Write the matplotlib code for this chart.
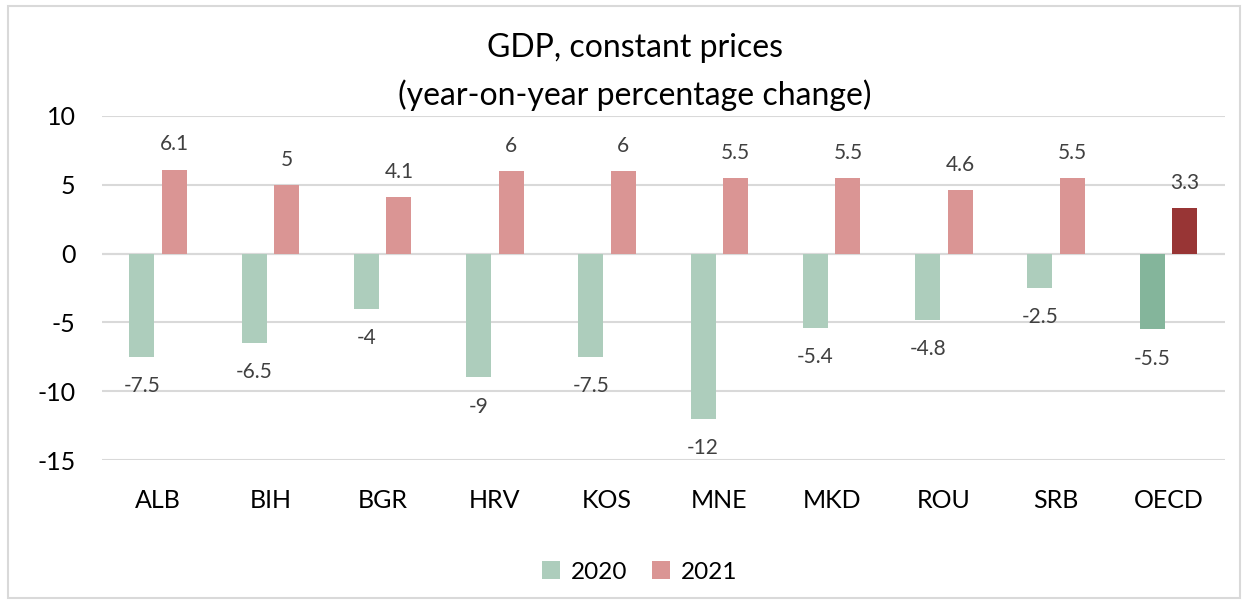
import numpy as np
import matplotlib.pyplot as plt
from matplotlib.patches import Rectangle

plt.rcParams['font.family'] = ['Lato', 'DejaVu Sans']
plt.rcParams['axes.unicode_minus'] = False

# Data
countries = ['ALB', 'BIH', 'BGR', 'HRV', 'KOS', 'MNE', 'MKD', 'ROU', 'SRB', 'OECD']
gdp_2020 = [-7.5, -6.5, -4, -9, -7.5, -12, -5.4, -4.8, -2.5, -5.5]
gdp_2021 = [6.1, 5, 4.1, 6, 6, 5.5, 5.5, 4.6, 5.5, 3.3]

#Colours
c2020 = '#ADCDBC'
c2021 = '#DA9594'
c2020_oecd = '#84B59B'
c2021_oecd = '#983535'

fig = plt.figure(figsize=(12.47, 6.01), dpi=100)
ax = fig.add_axes([0.0818, 0.2346, 0.9002, 0.5724])

x = np.arange(len(countries))
w = 0.223
off = 0.145
cols20 = [c2020]*(len(countries)-1) + [c2020_oecd]
cols21 = [c2021]*(len(countries)-1) + [c2021_oecd]
b1 = ax.bar(x - off, gdp_2020, w, color=cols20, label='2020', zorder=3)
b2 = ax.bar(x + off, gdp_2021, w, color=cols21, label='2021', zorder=3)

def fmt(v):
    return f"{v:g}"

for xi, v in zip(x - off, gdp_2020):
    ax.annotate(fmt(v), (xi, v), xytext=(0, -14), textcoords='offset points',
                ha='center', va='top', fontsize=15, color='#404040')
for xi, v in zip(x + off, gdp_2021):
    ax.annotate(fmt(v), (xi, v), xytext=(0, 11), textcoords='offset points',
                ha='center', va='bottom', fontsize=15, color='#404040')

ax.set_xlim(-0.5, len(countries) - 0.5)
ax.set_ylim(-15, 10)
ax.set_yticks([-15, -10, -5, 0, 5, 10])
ax.set_xticks(x)
ax.set_xticklabels(countries)
ax.tick_params(axis='both', length=0, labelsize=18, colors='black')
ax.tick_params(axis='y', pad=19)
ax.tick_params(axis='x', pad=21)
ax.grid(axis='y', color='#D9D9D9', linewidth=1.5, zorder=0)
ax.axhline(0, color='#D9D9D9', linewidth=1.5, zorder=1)
for s in ax.spines.values():
    s.set_visible(False)

fig.text(0.509, 0.92, 'GDP, constant prices', ha='center', va='center', fontsize=23)
fig.text(0.509, 0.842, '(year-on-year percentage change)', ha='center', va='center', fontsize=23)

leg = fig.legend(handles=[b1.patches[0], b2.patches[0]], labels=['2020', '2021'],
                 loc='center', bbox_to_anchor=(0.513, 0.048), ncol=2, frameon=False,
                 fontsize=17.5, handlelength=0.75, handleheight=0.75, handletextpad=0.45,
                 columnspacing=1.0)

fig.patches.append(Rectangle((0.0064, 0.005), 0.988, 0.985, transform=fig.transFigure,
                             fill=False, edgecolor='#D9D9D9', linewidth=1.5))

fig.savefig('out.png', dpi=100)
